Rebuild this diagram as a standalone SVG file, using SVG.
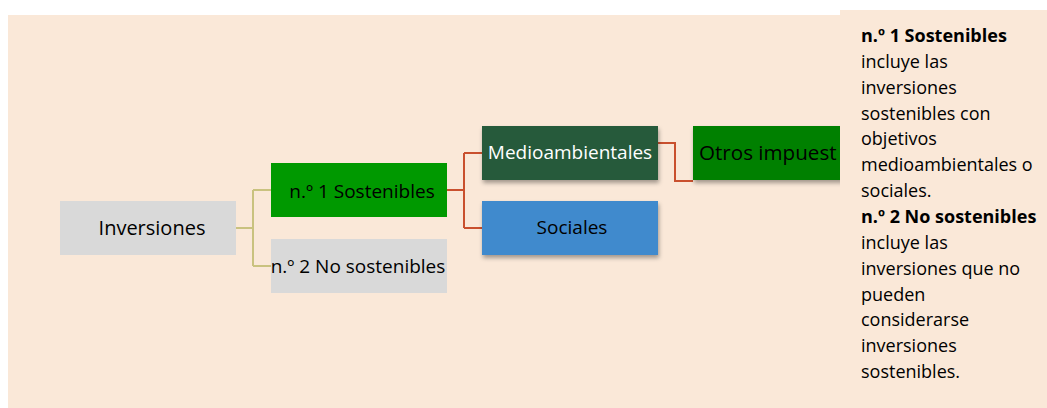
<svg xmlns="http://www.w3.org/2000/svg" width="1047" height="408" viewBox="0 0 1047 408">
<defs>
<filter id="sh" x="-10%" y="-20%" width="130%" height="160%">
<feDropShadow dx="1" dy="3" stdDeviation="2" flood-color="#000" flood-opacity="0.35"/>
</filter>
</defs>
<style>
.t{font-family:"Open Sans","Liberation Sans",sans-serif;font-size:19px;fill:#000}
.p{font-family:"Open Sans","Liberation Sans",sans-serif;font-size:18px;fill:#000}
.b{font-weight:bold}
.olive{fill:none;stroke:#c9c27f;stroke-width:2}
.red{fill:none;stroke:#c9502e;stroke-width:2}
</style>
<rect x="0" y="0" width="1047" height="408" fill="#ffffff"/>
<rect x="8" y="15" width="832" height="393" fill="#fae8d8"/>
<g id="connectors">
<path class="olive" d="M236 228 H253 M253 190 V266 M253 190 H271 M253 266 H271"/>
<path class="red" d="M447 190 H464 M464 153 V228 M464 153 H482 M464 228 H482"/>
<path class="red" d="M658 143 H675 V181 H693"/>
</g>
<g id="inversiones">
<rect x="60" y="201" width="176" height="54" fill="#d9d9d9"/>
<text class="t" x="152" y="235" text-anchor="middle" style="font-size:20px">Inversiones</text>
</g>
<g id="sostenibles">
<rect x="271" y="163" width="176" height="54" fill="#009900"/>
<text class="t" x="362" y="197.5" text-anchor="middle">n.º 1 Sostenibles</text>
</g>
<g id="nosostenibles">
<rect x="271" y="239" width="176" height="54" fill="#d9d9d9"/>
<text class="t" x="358" y="273" text-anchor="middle">n.º 2 No sostenibles</text>
</g>
<g id="medioambientales">
<rect x="482" y="126" width="176" height="54" fill="#265a3a" filter="url(#sh)"/>
<text class="t" x="570" y="158.5" text-anchor="middle" style="fill:#ffffff">Medioambientales</text>
</g>
<g id="sociales">
<rect x="482" y="201" width="176" height="54" fill="#3f8acd" filter="url(#sh)"/>
<text class="t" x="572" y="234" text-anchor="middle">Sociales</text>
</g>
<g id="otros">
<rect x="693" y="126" width="150" height="54" fill="#008000" filter="url(#sh)"/>
<text class="t" x="699" y="159.5" style="font-size:20.6px">Otros impuest</text>
</g>
<g id="leyenda">
<rect x="840" y="10" width="207" height="398" fill="#fae8d8"/>
<text class="p" x="861" y="42">
<tspan class="b" x="861" y="42">n.º 1 Sostenibles</tspan>
<tspan x="861" y="67.9">incluye las</tspan>
<tspan x="861" y="93.7">inversiones</tspan>
<tspan x="861" y="119.6">sostenibles con</tspan>
<tspan x="861" y="145.4">objetivos</tspan>
<tspan x="861" y="171.3">medioambientales o</tspan>
<tspan x="861" y="197.1">sociales.</tspan>
<tspan class="b" x="861" y="223">n.º 2 No sostenibles</tspan>
<tspan x="861" y="248.8">incluye las</tspan>
<tspan x="861" y="274.7">inversiones que no</tspan>
<tspan x="861" y="300.5">pueden</tspan>
<tspan x="861" y="326.4">considerarse</tspan>
<tspan x="861" y="352.2">inversiones</tspan>
<tspan x="861" y="378.1">sostenibles.</tspan>
</text>
</g>
</svg>
